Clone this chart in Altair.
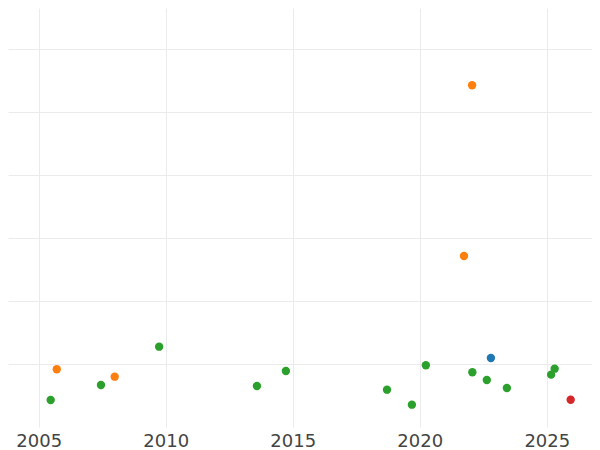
import altair as alt
import pandas as pd

# data
years = [2005.47, 2007.45, 2009.74, 2013.59, 2014.73, 2018.71, 2019.69, 2020.24,
         2022.07, 2022.64, 2023.43, 2025.17, 2025.31,
         2005.71, 2007.99, 2021.74, 2022.06,
         2022.80,
         2025.94]
values = [4.28, 6.66, 12.74, 6.50, 8.88, 5.92, 3.54, 9.79,
          8.68, 7.45, 6.19, 8.30, 9.25,
          9.15, 7.98, 27.12, 54.20,
          10.94,
          4.33]
groups = ["C"] * 13 + ["B"] * 4 + ["A"] + ["D"]

group_order = ["A", "B", "C", "D"]
group_colors = ["#1f77b4", "#ff7f0e", "#2ca02c", "#d62728"]
x_ticks = [2005, 2010, 2015, 2020, 2025]
y_ticks = [10, 20, 30, 40, 50, 60]

df = pd.DataFrame({"year": years, "value": values, "group": groups})

chart = (
    alt.Chart(df)
    .mark_circle(size=70, opacity=1)
    .encode(
        x=alt.X(
            "year:Q",
            scale=alt.Scale(domain=[2003.79, 2026.78], nice=False, zero=False),
            axis=alt.Axis(
                values=x_ticks,
                format="d",
                title=None,
                domain=False,
                ticks=False,
                tickSize=0,
                labelPadding=5,
                labelFont="DejaVu Sans",
                labelFontSize=18,
                labelColor="#444444",
                gridColor="#ebebeb",
                gridWidth=1,
            ),
        ),
        y=alt.Y(
            "value:Q",
            scale=alt.Scale(domain=[0, 66.45], nice=False),
            axis=alt.Axis(
                values=y_ticks,
                title=None,
                labels=False,
                domain=False,
                ticks=False,
                tickSize=0,
                gridColor="#ebebeb",
                gridWidth=1,
            ),
        ),
        color=alt.Color(
            "group:N",
            scale=alt.Scale(domain=group_order, range=group_colors),
            legend=None,
        ),
    )
    .properties(width=584, height=419, padding=0)
    .configure_view(strokeWidth=0)
)

chart.save("out.html", embed_options={"renderer": "svg", "actions": False})
